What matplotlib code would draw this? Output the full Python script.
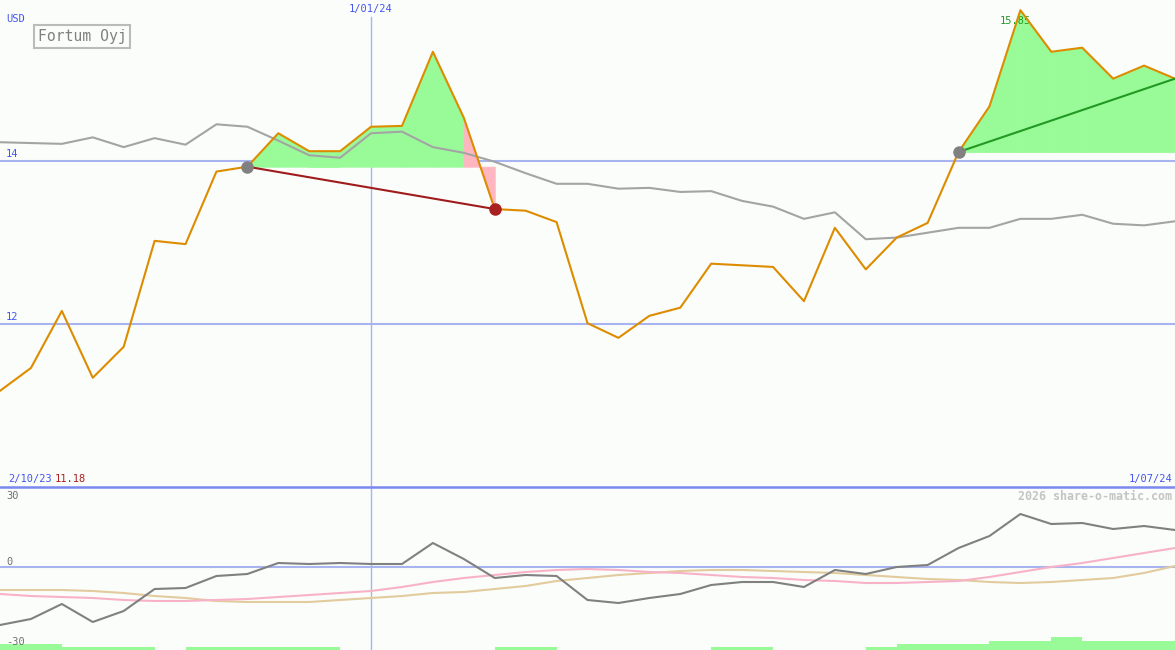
import numpy as np
import matplotlib.pyplot as plt
from matplotlib.lines import Line2D

plt.rcParams['font.family'] = ['DejaVu Sans Mono']

# weekly closes, Fortum Oyj (USD)
price = [11.18, 11.46, 12.16, 11.34, 11.72, 13.02, 12.98, 13.87, 13.93, 14.34,
         14.12, 14.12, 14.42, 14.43, 15.34, 14.53, 13.41, 13.39, 13.25, 12.01,
         11.83, 12.10, 12.20, 12.74, 12.72, 12.70, 12.28, 13.18, 12.67, 13.06,
         13.24, 14.11, 14.67, 15.85, 15.34, 15.39, 15.01, 15.17, 15.01]
# comparison index (rescaled)
index = [14.23, 14.22, 14.21, 14.29, 14.17, 14.28, 14.20, 14.45, 14.42, 14.25,
         14.07, 14.04, 14.34, 14.36, 14.17, 14.10, 13.99, 13.85, 13.72, 13.72,
         13.66, 13.67, 13.62, 13.63, 13.51, 13.44, 13.29, 13.37, 13.04, 13.06,
         13.12, 13.18, 13.18, 13.29, 13.29, 13.34, 13.23, 13.21, 13.26]
# oscillator panel
osc = [-23.2, -20.8, -14.8, -22.0, -17.6, -8.8, -8.4, -3.6, -2.8, 1.6,
       1.2, 1.6, 1.2, 1.2, 9.6, 3.2, -4.4, -3.2, -3.6, -13.2,
       -14.4, -12.4, -10.8, -7.2, -6.0, -6.0, -8.0, -1.2, -2.8, 0.0,
       0.8, 7.6, 12.4, 21.2, 17.2, 17.6, 15.2, 16.4, 14.8]
osc_fast = [-10.8, -11.6, -12.0, -12.4, -13.2, -13.6, -13.6, -13.2, -12.8, -12.0,
            -11.2, -10.4, -9.6, -8.0, -6.0, -4.4, -3.2, -2.0, -1.2, -0.8,
            -1.2, -2.0, -2.4, -3.2, -4.0, -4.4, -5.2, -5.6, -6.4, -6.4,
            -6.0, -5.6, -4.0, -2.0, 0.0, 1.6, 3.6, 5.6, 7.6]
osc_slow = [-9.2, -9.2, -9.2, -9.6, -10.4, -11.6, -12.4, -13.6, -14.0, -14.0,
            -14.0, -13.2, -12.4, -11.6, -10.4, -10.0, -8.8, -7.6, -5.6, -4.4,
            -3.2, -2.4, -1.6, -1.2, -1.2, -1.6, -2.0, -2.4, -3.2, -4.0,
            -4.8, -5.2, -6.0, -6.4, -6.0, -5.2, -4.4, -2.4, 0.4]
volume = [2.4, 2.4, 1.2, 1.2, 1.2, 0, 1.2, 1.2, 1.2, 1.2,
          1.2, 0, 0, 0, 0, 0, 1.2, 1.2, 0, 0,
          0, 0, 0, 1.2, 1.2, 0, 0, 0, 1.2, 2.4,
          2.4, 2.4, 3.6, 3.6, 5.2, 3.6, 3.6, 3.6]
trades = [(8, 16), (31, 38)]  # (entry week, exit week)
weeks = np.arange(len(price))

bg = '#fbfdfb'
blue_txt = '#4455ee'
grid_c = '#a8b4f0'
fs = 7.5

fig = plt.figure(figsize=(11.75, 6.5), dpi=100, facecolor=bg)
ax = fig.add_axes([0, 163 / 650, 1, 487 / 650])
ax2 = fig.add_axes([0, 0, 1, 163 / 650])
for a in (ax, ax2):
    a.set_facecolor(bg)
    a.set_xlim(0, 38)
    a.set_xticks([])
    a.set_yticks([])
    for s in a.spines.values():
        s.set_visible(False)
ax.set_ylim(10.0, 15.975)
ax2.set_ylim(-33.2, 32)

# main panel
for lvl in (12, 14):
    ax.axhline(lvl, color=grid_c, lw=1.5, zorder=1)
    ax.text(6 / 1175, lvl + 0.02, str(lvl), transform=ax.get_yaxis_transform(),
            color=blue_txt, fontsize=fs, va='bottom')
ax.axvline(12, ymax=1 - 17 / 487, color=grid_c, lw=1, zorder=1)
ax2.axvline(12, color=grid_c, lw=1, zorder=1)

# gain / loss shading while a position is open
for i0, i1 in trades:
    base = price[i0]
    for i in range(i0, i1):
        c = '#98fb98' if price[i + 1] >= base else '#ffb6c1'
        ax.fill_between([i, i + 1], [price[i], price[i + 1]], base,
                        facecolor=c, edgecolor=c, lw=0.6, zorder=2)

ax.plot(weeks, index, color='#a4a4a4', lw=1.5, zorder=3)
ax.plot(weeks, price, color='#dd8c00', lw=1.5, zorder=4)

e, x = trades[0]
ax.plot([e, x], [price[e], price[x]], color='#a01c1c', lw=1.5, zorder=5)
ax.plot(x, price[x], 'o', color='#a82020', ms=8, zorder=6)
ax.plot(e, price[e], 'o', color='#808080', ms=8, zorder=6)
e, x = trades[1]
ax.plot([e, x], [price[e], price[x]], color='#229922', lw=1.5, zorder=5)
ax.plot(e, price[e], 'o', color='#808080', ms=8, zorder=6)

imax = int(np.argmax(price))
ax.text(imax - 0.15, 15.72, f'{max(price):.2f}', color='#229922', fontsize=fs,
        ha='center', va='center', zorder=3)

ax.text(6 / 1175, 0.96, 'USD', transform=ax.transAxes, color=blue_txt,
        fontsize=fs, va='center')
ax.text(38 / 1175, 0.925, 'Fortum Oyj', transform=ax.transAxes, color='#808080',
        fontsize=10.6, va='center',
        bbox=dict(boxstyle='square,pad=0.25', fc='none', ec='#bbbbbb', lw=1.5))
ax.text(12, 0.982, '1/01/24', transform=ax.get_xaxis_transform(), color=blue_txt,
        fontsize=fs, ha='center', va='center')
ax.text(8 / 1175, 10.10, '2/10/23', transform=ax.get_yaxis_transform(),
        color=blue_txt, fontsize=fs, va='center')
ax.text(55 / 1175, 10.10, f'{min(price):.2f}', transform=ax.get_yaxis_transform(),
        color='#aa2020', fontsize=fs, va='center')
ax.text(1172 / 1175, 10.10, '1/07/24', transform=ax.get_yaxis_transform(),
        color=blue_txt, fontsize=fs, ha='right', va='center')

fig.add_artist(Line2D([0, 1], [163 / 650, 163 / 650], transform=fig.transFigure,
                      color='#7b88ee', lw=1.8))

# lower panel
ax2.axhline(0, color=grid_c, lw=1.5, zorder=1)
ax2.bar(weeks[:-1], volume, width=1, align='edge', bottom=-33.2,
        color='#98fb98', lw=0, zorder=1)
ax2.plot(weeks, osc_slow, color='#e2cb9c', lw=1.5, zorder=2)
ax2.plot(weeks, osc_fast, color='#f8b2c8', lw=1.5, zorder=2)
ax2.plot(weeks, osc, color='#808080', lw=1.5, zorder=3)
for v, lab in [(28.4, '30'), (2.0, '0'), (-30.0, '-30')]:
    ax2.text(6 / 1175, v, lab, transform=ax2.get_yaxis_transform(),
             color='#707070', fontsize=fs, va='center')
ax2.text(1172 / 1175, 28.0, '2026 share-o-matic.com', transform=ax2.get_yaxis_transform(),
         color='#c4c4c4', fontsize=8.4, fontweight='bold', ha='right', va='center')

fig.savefig('out.png', dpi=100, facecolor=bg)
